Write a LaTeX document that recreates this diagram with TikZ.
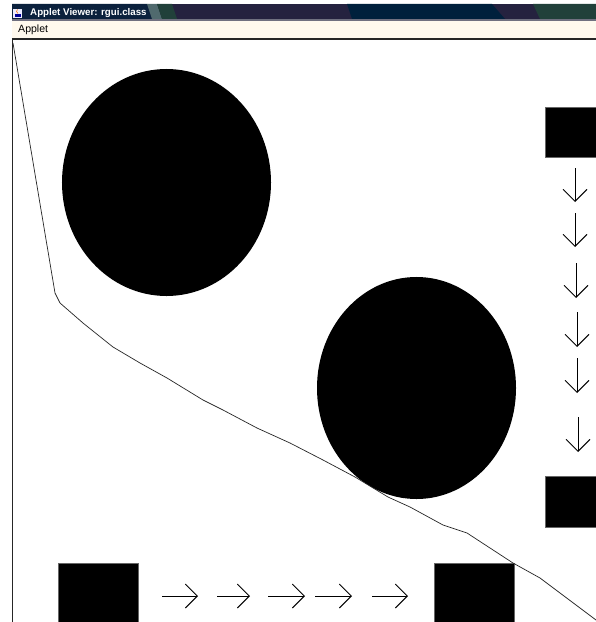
\documentclass[tikz,border=0pt]{standalone}
\usepackage{fontspec}
\setmainfont{Liberation Sans}
\usetikzlibrary{arrows.meta,shapes.geometric,positioning}
\definecolor{titlenavy}{HTML}{00203C}
\definecolor{titlepurple}{HTML}{25223F}
\definecolor{titlegreen}{HTML}{21403A}
\definecolor{titleteal}{HTML}{506A6E}
\definecolor{menucream}{HTML}{FFF9EE}
\definecolor{menuedge}{HTML}{707080}

\begin{document}
\begin{tikzpicture}[x=0.03cm, y=-0.03cm,
    blob/.style={ellipse, fill=black, inner sep=0pt},
    blk/.style={fill=black, draw=black!60, line width=0.3pt, inner sep=0pt, anchor=north west, minimum width=2.4cm},
    arr/.style={-{Straight Barb[length=0.36cm, width=0.72cm]}, line width=0.8pt},
    trace/.style={line width=0.6pt, black!85, line join=round},
    band/.style={line width=0pt}
]
\useasboundingbox (0,0) rectangle (596,622);
\fill[white] (0,0) rectangle (596,622);

% window chrome
\fill[titlepurple] (12,4) rectangle (596,19);
\fill[titlenavy!70!titlepurple] (12,4) -- (147,4) -- (152,19) -- (12,19) -- cycle;
\fill[titleteal] (147,4) -- (157,4) -- (162,19) -- (152,19) -- cycle;
\fill[titlegreen] (157,4) -- (172,4) -- (177,19) -- (162,19) -- cycle;
\fill[titlenavy] (347,4) -- (492,4) -- (505,19) -- (352,19) -- cycle;
\fill[titlegreen] (533,4) -- (596,4) -- (596,19) -- (540,19) -- cycle;
\fill[menuedge] (12,19) rectangle (596,21);
\fill[menucream] (12,21) rectangle (596,38);
\fill[black!85] (12,38) rectangle (596,40);
\fill[black!85] (12,38) rectangle (13,622);

\fill[blue!8] (13,9) rectangle (22,18);
\draw[orange!90!red, line width=0.5pt] (17.5,9.5) -- (16.5,11.5) -- (18,13.5);
\fill[blue!60!black] (14.5,14.5) rectangle (20.5,17.5);

\node[font=\bfseries\fontsize{8.3}{10}\selectfont, text=white, anchor=base west, inner sep=0pt] (title) at (30,16) {Applet Viewer: rgui.class};
\node[font=\fontsize{9}{11}\selectfont, anchor=base west, inner sep=0pt] (menu) at (18,33) {Applet};

% applet area
\begin{scope}
\clip (13,40) rectangle (596,622);
\node[blob, minimum width=6.27cm, minimum height=6.81cm] (moon) at (166.5,182.5) {};
\node[blob, minimum width=5.97cm, minimum height=6.66cm] (stone) at (416.5,388) {};

\node[blk, minimum height=1.5cm] (ne) at (545,107) {};
\node[blk, minimum height=1.53cm] (se) at (545,476) {};
\node[blk, minimum height=2.4cm] (sw) at (58,563) {};
\node[blk, minimum height=2.4cm] (sm) at (434,563) {};

\foreach \x/\a/\b [count=\i] in {575/168/202, 575/213/247, 576/263/298, 577/312/347, 577/358/393, 578/417/452} {
  \coordinate (d\i t) at (\x,\a);
  \coordinate (d\i h) at (\x,\b);
  \draw[arr] (d\i t) -- (d\i h);
}
\foreach \a/\b [count=\i] in {162/198, 217/250, 268/305, 315/352, 372/408} {
  \coordinate (r\i t) at (\a,596);
  \coordinate (r\i h) at (\b,596);
  \draw[arr] (r\i t) -- (r\i h);
}

\draw[trace] (13,43) -- (55,293) -- (60,303) -- (83,323) -- (113,347) -- (140,363)
  -- (167,378) -- (203,400) -- (223,410) -- (257,428) -- (290,443) -- (323,460)
  -- (355,477) -- (388,497) -- (410,507) -- (443,525) -- (467,533) -- (513,563)
  -- (540,578) -- (596,620);
\end{scope}
\end{tikzpicture}
\end{document}
